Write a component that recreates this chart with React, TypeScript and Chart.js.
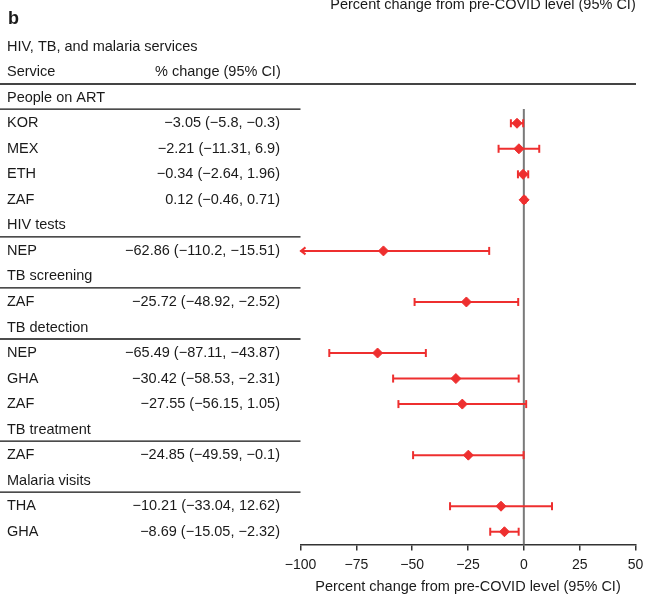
import React, { useEffect, useRef } from 'react';
import { Chart, registerables } from 'chart.js';

Chart.register(...registerables);

// ---- data ----
const groups = ['People on ART', 'HIV tests', 'TB screening', 'TB detection', 'TB treatment', 'Malaria visits'];
const countries = ['KOR', 'MEX', 'ETH', 'ZAF', 'NEP', 'ZAF', 'NEP', 'GHA', 'ZAF', 'ZAF', 'THA', 'GHA'];
const groupOf = [0, 0, 0, 0, 1, 2, 3, 3, 3, 4, 5, 5];
const estimates = [-3.05, -2.21, -0.34, 0.12, -62.86, -25.72, -65.49, -30.42, -27.55, -24.85, -10.21, -8.69];
const lower = [-5.8, -11.31, -2.64, -0.46, -110.2, -48.92, -87.11, -58.53, -56.15, -49.59, -33.04, -15.05];
const upper = [-0.3, 6.9, 1.96, 0.71, -15.51, -2.52, -43.87, -2.31, 1.05, -0.1, 12.62, -2.32];
const xTicks = [-100, -75, -50, -25, 0, 25, 50];
const xMin = -100;
const xMax = 50;

const panelLetter = 'b';
const tableTitle = 'HIV, TB, and malaria services';
const colService = 'Service';
const colChange = '% change (95% CI)';
const axisTitle = 'Percent change from pre-COVID level (95% CI)';

const RED = '#ee2f2f';
const FONT = '"Liberation Sans", Arial, Helvetica, sans-serif';
const TEXT = '#1a1a1a';
const TXT_SIZE = 14.5;

const fmt = (v: number) => String(v).replace('-', '\u2212');

// build row layout: group header rows and data rows
type Row = { kind: 'group'; label: string; row: number } | { kind: 'data'; i: number; row: number };
const rows: Row[] = [];
{
  let r = 0;
  let last = -1;
  countries.forEach((_, i) => {
    if (groupOf[i] !== last) {
      rows.push({ kind: 'group', label: groups[groupOf[i]], row: r++ });
      last = groupOf[i];
    }
    rows.push({ kind: 'data', i, row: r++ });
  });
}
const nRows = rows.length;
const dataRow: number[] = [];
rows.forEach((rw) => {
  if (rw.kind === 'data') dataRow[rw.i] = rw.row;
});

const tablePlugin = {
  id: 'forestTable',
  beforeDatasetsDraw(chart: any) {
    const { ctx, chartArea } = chart;
    const xs = chart.scales.x;
    const ys = chart.scales.y;
    ctx.save();
    // zero reference line
    const x0 = xs.getPixelForValue(0);
    ctx.strokeStyle = '#7a7a7a';
    ctx.lineWidth = 2;
    ctx.beginPath();
    ctx.moveTo(x0, chartArea.top - 1.5);
    ctx.lineTo(x0, chartArea.bottom);
    ctx.stroke();
    // CI bars
    ctx.strokeStyle = RED;
    ctx.lineWidth = 2;
    countries.forEach((_, i) => {
      const py = ys.getPixelForValue(dataRow[i]);
      const lo = Math.max(lower[i], xMin);
      const hi = Math.min(upper[i], xMax);
      const pl = xs.getPixelForValue(lo);
      const ph = xs.getPixelForValue(hi);
      ctx.beginPath();
      ctx.moveTo(pl, py);
      ctx.lineTo(ph, py);
      ctx.stroke();
      const cap = 4;
      if (lower[i] >= xMin) {
        ctx.beginPath();
        ctx.moveTo(pl, py - cap);
        ctx.lineTo(pl, py + cap);
        ctx.stroke();
      } else {
        ctx.beginPath();
        ctx.moveTo(pl + 5, py - 3.5);
        ctx.lineTo(pl + 0.5, py);
        ctx.lineTo(pl + 5, py + 3.5);
        ctx.stroke();
      }
      if (upper[i] <= xMax) {
        ctx.beginPath();
        ctx.moveTo(ph, py - cap);
        ctx.lineTo(ph, py + cap);
        ctx.stroke();
      }
    });
    ctx.restore();
  },
  afterDraw(chart: any) {
    const { ctx, chartArea } = chart;
    const ys = chart.scales.y;
    const xs = chart.scales.x;
    const yAt = (r: number) => ys.getPixelForValue(r);
    ctx.save();
    ctx.fillStyle = TEXT;
    // clipped top title
    ctx.font = `${TXT_SIZE}px ${FONT}`;
    ctx.textAlign = 'center';
    ctx.textBaseline = 'alphabetic';
    ctx.fillText(axisTitle, (xs.left + xs.right) / 2 + 15, 8.5);
    ctx.textBaseline = 'middle';
    // panel letter
    ctx.font = `bold 18px ${FONT}`;
    ctx.textAlign = 'left';
    ctx.fillText(panelLetter, 8, yAt(-3.1));
    ctx.font = `${TXT_SIZE}px ${FONT}`;
    ctx.fillText(tableTitle, 7, yAt(-2));
    ctx.fillText(colService, 7, yAt(-1));
    ctx.fillText(colChange, 155, yAt(-1));
    // thick header rule
    ctx.strokeStyle = '#444';
    ctx.lineWidth = 2;
    ctx.beginPath();
    ctx.moveTo(0, yAt(-0.5) - 1);
    ctx.lineTo(chartArea.right + 0.5, yAt(-0.5) - 1);
    ctx.stroke();
    ctx.strokeStyle = '#111';
    ctx.lineWidth = 1.3;
    rows.forEach((rw) => {
      const y = yAt(rw.row);
      if (rw.kind === 'group') {
        ctx.textAlign = 'left';
        ctx.fillText(rw.label, 7, y);
        const ly = yAt(rw.row + 0.45);
        ctx.beginPath();
        ctx.moveTo(0, ly);
        ctx.lineTo(chartArea.left, ly);
        ctx.stroke();
      } else {
        const i = rw.i;
        ctx.textAlign = 'left';
        ctx.fillText(countries[i], 7, y);
        ctx.textAlign = 'right';
        ctx.fillText(`${fmt(estimates[i])} (${fmt(lower[i])}, ${fmt(upper[i])})`, 280, y);
      }
    });
    ctx.restore();
  },
};

export default function App() {
  const ref = useRef<HTMLCanvasElement>(null);
  useEffect(() => {
    document.body.style.margin = '0';
    const canvas = ref.current;
    if (!canvas) return;
    const chart = new Chart(canvas, {
      type: 'scatter',
      data: {
        datasets: [
          {
            data: countries.map((_, i) => ({ x: estimates[i], y: dataRow[i] })),
            pointStyle: 'rectRot',
            pointRadius: 5,
            pointHoverRadius: 5,
            backgroundColor: RED,
            borderColor: RED,
            borderWidth: 1,
          },
        ],
      },
      options: {
        animation: false,
        responsive: false,
        events: [],
        layout: { padding: { left: 300.5, right: 10.5, top: 110.5, bottom: 0 } },
        plugins: { legend: { display: false }, tooltip: { enabled: false } },
        scales: {
          x: {
            type: 'linear',
            min: xMin,
            max: xMax,
            afterBuildTicks: (axis: any) => {
              axis.ticks = xTicks.map((v) => ({ value: v }));
            },
            afterFit: (axis: any) => {
              axis.paddingLeft = 0;
              axis.paddingRight = 0;
              axis.height = 49.5;
            },
            grid: { display: true, drawOnChartArea: false, drawTicks: true, tickLength: 6, color: '#333', lineWidth: 1.5 },
            border: { display: true, color: '#333', width: 1.5 },
            ticks: {
              padding: 6,
              color: TEXT,
              font: { family: FONT, size: 14 },
              callback: (v: any) => fmt(Number(v)),
              maxRotation: 0,
            },
            title: {
              display: true,
              text: axisTitle,
              color: TEXT,
              font: { family: FONT, size: TXT_SIZE },
              padding: { top: 1.5, bottom: -1.5 },
            },
          },
          y: {
            type: 'linear',
            display: false,
            min: 0.5,
            max: nRows - 0.5,
            reverse: true,
          },
        },
      },
      plugins: [tablePlugin],
    });
    return () => chart.destroy();
  }, []);
  return (
    <div style={{ width: 646, height: 594 }}>
      <canvas ref={ref} width={646} height={594} style={{ display: 'block' }} />
    </div>
  );
}
